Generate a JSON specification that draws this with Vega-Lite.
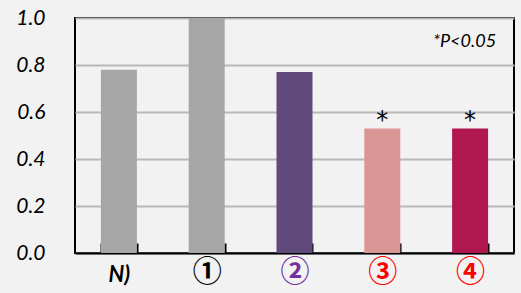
{
  "$schema": "https://vega.github.io/schema/vega-lite/v6.json",
  "width": 439,
  "height": 235,
  "autosize": "none",
  "padding": {"left": 75, "top": 18, "right": 7, "bottom": 40},
  "background": "#f2f2f2",
  "config": {
    "view": {"stroke": "black", "strokeWidth": 2},
    "font": "Lato"
  },
  "data": {
    "values": [
      {"cat": "N)", "value": 0.78, "sig": ""},
      {"cat": "①", "value": 1.0, "sig": ""},
      {"cat": "②", "value": 0.77, "sig": ""},
      {"cat": "③", "value": 0.53, "sig": "*"},
      {"cat": "④", "value": 0.53, "sig": "*"}
    ]
  },
  "encoding": {
    "x": {
      "field": "cat",
      "type": "nominal",
      "sort": null,
      "scale": {"paddingInner": 0.59, "paddingOuter": 0.295},
      "axis": {
        "title": null,
        "labelAngle": 0,
        "labelFont": {"condition": {"test": "datum.value=='N)'", "value": "Lato"}, "value": "Noto Sans CJK JP"},
        "labelFontSize": {"condition": {"test": "datum.value=='N)'", "value": 22}, "value": 29},
        "labelBaseline": "alphabetic",
        "labelPadding": 38,
        "labelColor": {
          "condition": [
            {"test": "datum.value=='②'", "value": "#7030a0"},
            {"test": "datum.value=='③' || datum.value=='④'", "value": "#ff0000"}
          ],
          "value": "black"
        },
        "labelFontWeight": "bold",
        "labelFontStyle": {"condition": {"test": "datum.value=='N)'", "value": "italic"}, "value": "normal"},
        "domainColor": "black",
        "domainWidth": 2,
        "tickBand": "extent",
        "tickSize": -10,
        "tickColor": "black",
        "tickWidth": 2
      }
    }
  },
  "layer": [
    {
      "mark": {"type": "bar"},
      "encoding": {
        "y": {
          "field": "value",
          "type": "quantitative",
          "scale": {"domain": [0, 1], "nice": false},
          "axis": {
            "title": null,
            "values": [0, 0.1, 0.2, 0.3, 0.4, 0.5, 0.6, 0.7, 0.8, 0.9, 1.0],
            "labelExpr": "round(datum.value*10)%2==0 ? format(datum.value,'.1f') : ''",
            "labelFontSize": 21,
            "labelFontStyle": "italic",
            "labelColor": "black",
            "labelPadding": 30,
            "ticks": false,
            "domain": false,
            "gridColor": "#b8b8b8",
            "gridWidth": 2
          }
        },
        "color": {
          "field": "cat",
          "type": "nominal",
          "sort": null,
          "scale": {
            "domain": ["N)", "①", "②", "③", "④"],
            "range": ["#a6a6a6", "#a6a6a6", "#604a7b", "#d99694", "#b0174f"]
          },
          "legend": null
        }
      }
    },
    {
      "mark": {"type": "text", "dy": -7, "fontSize": 24, "font": "DejaVu Sans", "color": "black"},
      "encoding": {
        "y": {"field": "value", "type": "quantitative"},
        "text": {"field": "sig"}
      }
    },
    {
      "data": {"values": [{"cat": "④", "value": 0.9, "label": "*P<0.05"}]},
      "mark": {"type": "text", "align": "right", "dx": 26, "fontSize": 18, "fontStyle": "italic", "color": "black"},
      "encoding": {
        "y": {"field": "value", "type": "quantitative"},
        "text": {"field": "label"}
      }
    }
  ]
}
